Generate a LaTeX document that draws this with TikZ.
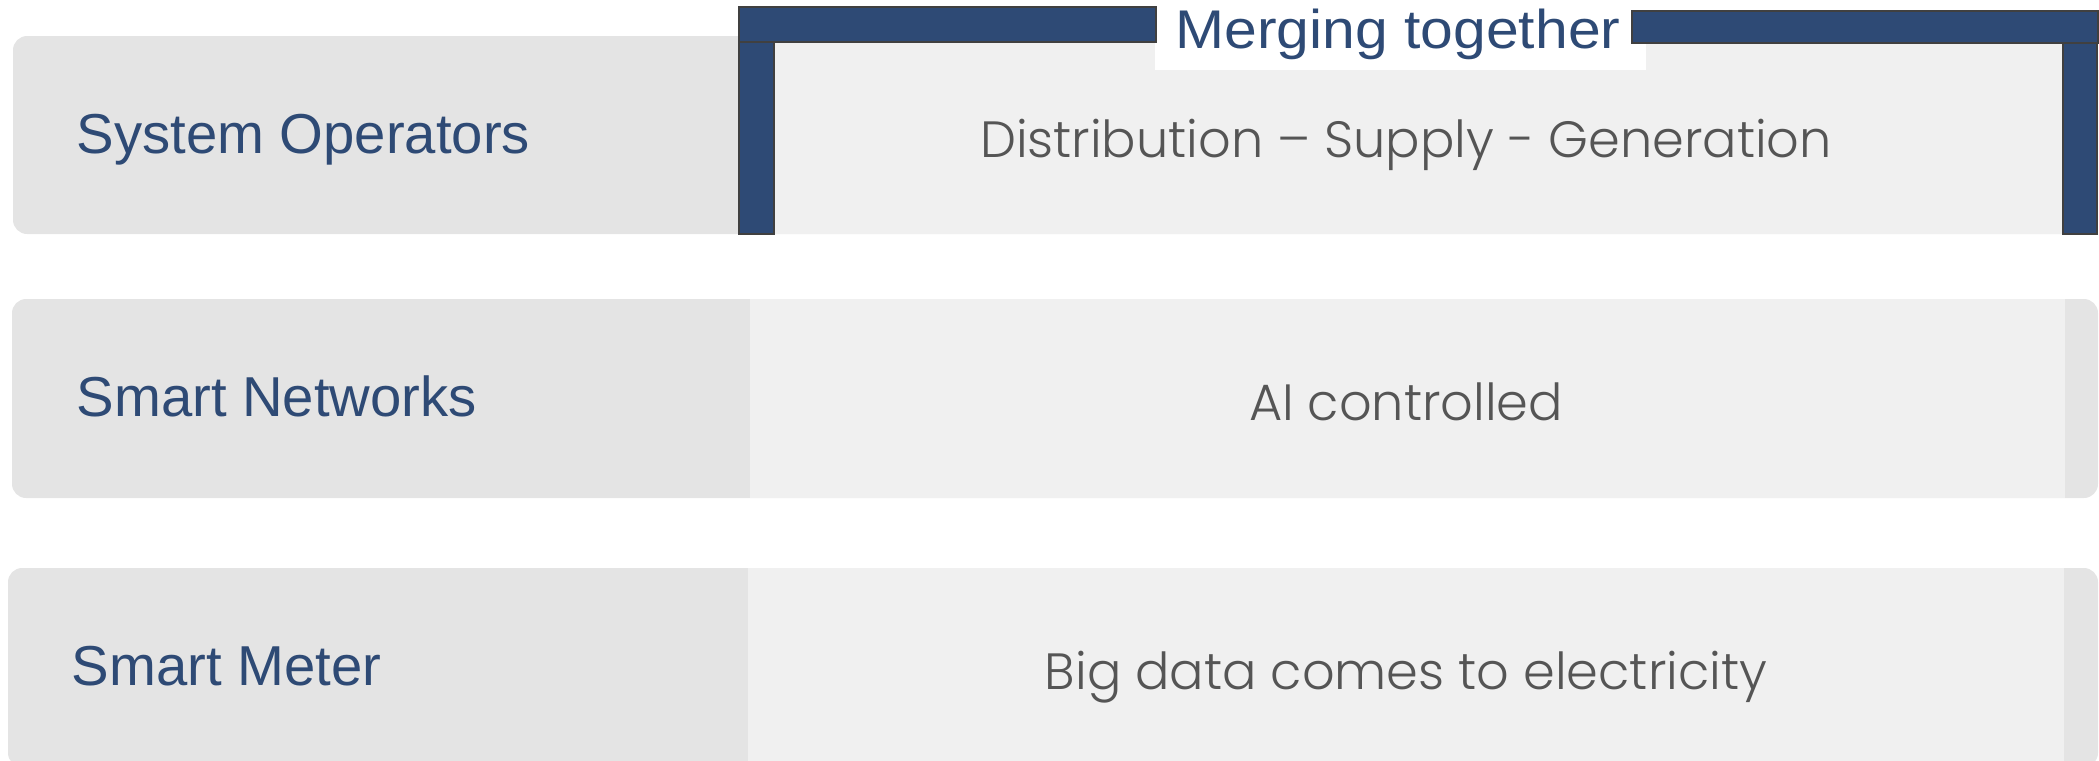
\documentclass[tikz,border=0pt]{standalone}
\usepackage{fontspec}
\setmainfont{Liberation Sans}
\IfFontExistsTF{Poppins Light}{\newfontfamily\bodyfont{Poppins Light}}{\newfontfamily\bodyfont{Poppins}}
\newfontfamily\headfont[FakeStretch=1.08]{Liberation Sans}
\usepackage{tikz}
\definecolor{navy}{HTML}{2E4A75}
\definecolor{tabdark}{HTML}{E4E4E4}
\definecolor{tablight}{HTML}{F0F0F0}
\definecolor{bodygray}{HTML}{555555}
\definecolor{edge}{HTML}{404040}
\tikzstyle{rowbox}=[fill=tabdark, rounded corners=4pt]
\tikzstyle{cell}=[fill=tablight]
\tikzstyle{bar}=[fill=navy, draw=edge, line width=0.6pt]
\tikzstyle{lbl}=[text=navy, anchor=base west, inner sep=0,
    font=\fontsize{16}{19}\selectfont]
\tikzstyle{body}=[text=bodygray, anchor=base, inner sep=0,
    font=\bodyfont\fontsize{14.5}{17}\selectfont]

\begin{document}
\begin{tikzpicture}[x=0.01cm, y=-0.01cm]
  \clip (0,0) rectangle (2099,760);

  % rows: grey tab on the left, light cell for the text
  \fill[rowbox] (13,36) rectangle (2098,234);
  \fill[cell] (750,36) rectangle (2064,234);
  \fill[rowbox] (12,299) rectangle (2098,498);
  \fill[cell] (750,299) rectangle (2065,498);
  \fill[rowbox] (8,568) rectangle (2098,767);
  \fill[cell] (748,568) rectangle (2064,767);

  % bracket over the first row
  \fill[white] (1155,0) rectangle (1646,70);
  \filldraw[bar] (739,7) rectangle (1156,42);
  \filldraw[bar] (739,42) rectangle (774,234);
  \filldraw[bar] (1632,11) rectangle (2098,43);
  \filldraw[bar] (2063,43) rectangle (2097,234);
  \node[text=navy, anchor=base, inner sep=0, font=\headfont\fontsize{15.5}{18}\selectfont]
    at (1398,48) (merge) {Merging together};

  \node[lbl] at (76,153) (so) {System Operators};
  \node[lbl] at (76,416) (sn) {Smart Networks};
  \node[lbl] at (71,685) (sm) {Smart Meter};

  \node[body] at (1406,157) (dsg) {Distribution – Supply - Generation};
  \node[body] at (1406,420) (ai) {AI controlled};
  \node[body] at (1406,689) (bd) {Big data comes to electricity};
\end{tikzpicture}
\end{document}
